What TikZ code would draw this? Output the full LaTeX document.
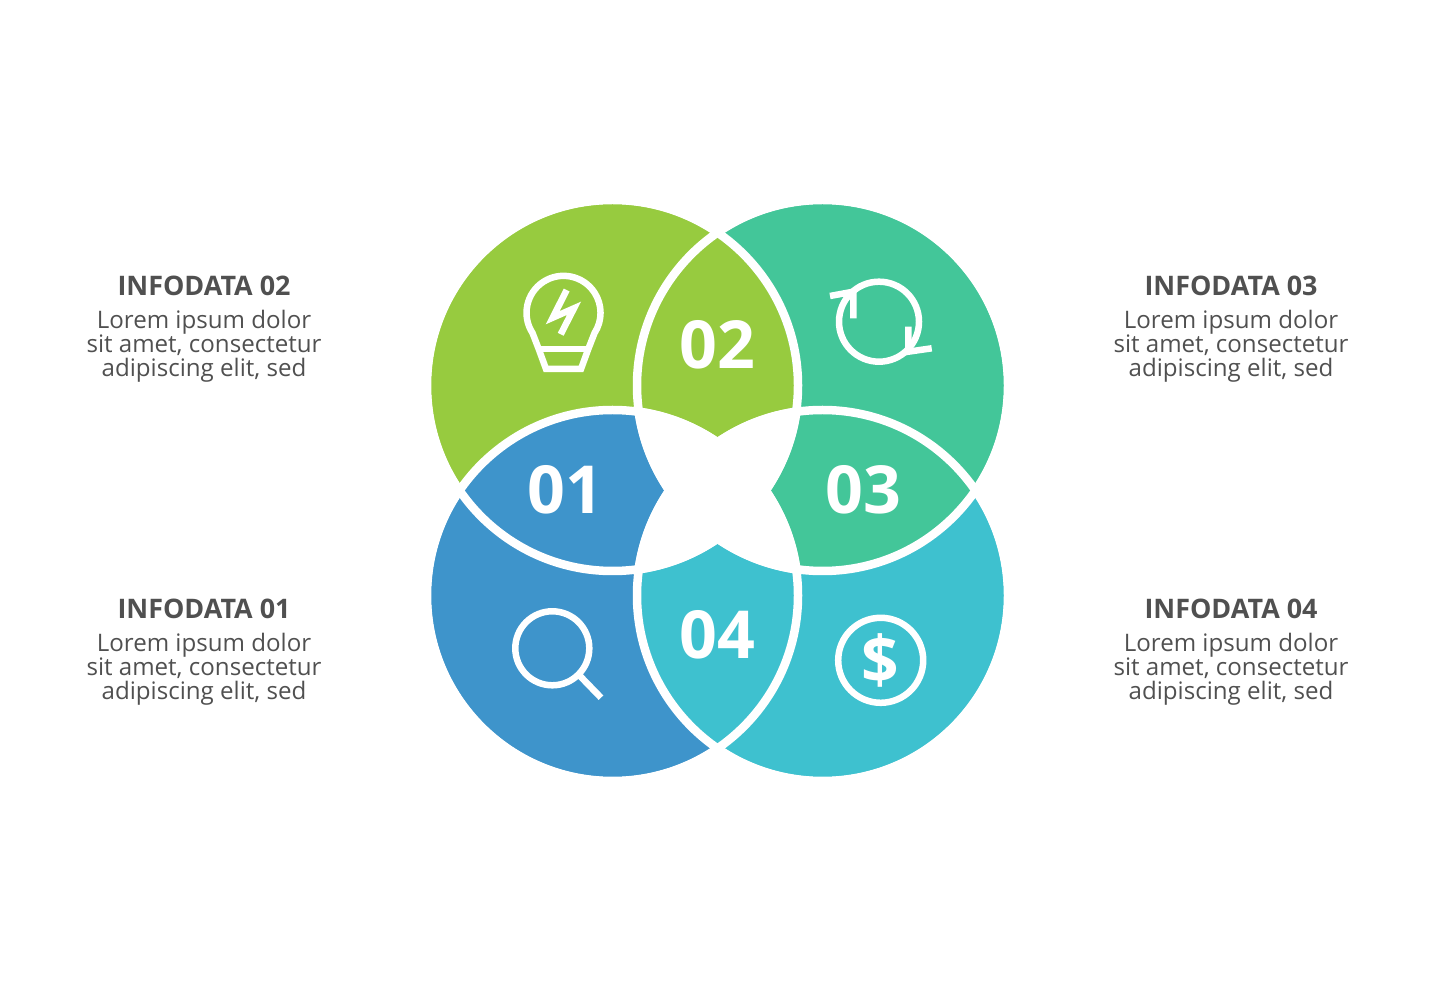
\documentclass[tikz,border=0pt]{standalone}
\usepackage{fontspec}
\setmainfont{Open Sans}
\usetikzlibrary{positioning}
\definecolor{leafgreen}{HTML}{97CB3F}
\definecolor{seagreen}{HTML}{43C699}
\definecolor{lagoon}{HTML}{3EC1CF}
\definecolor{oceanblue}{HTML}{3E94CB}
\definecolor{labelgray}{HTML}{505050}
\tikzset{
    numlabel/.style={text=white, font=\fontsize{66.5}{66.5}\selectfont\bfseries},
    titlelabel/.style={text=labelgray, font=\fontsize{27}{27}\selectfont\bfseries},
    bodylabel/.style={text=labelgray, align=center, font=\fontsize{24.2}{24.3}\selectfont},
    iconline/.style={draw=white, line width=6.5bp, line join=miter}
}

\begin{document}
\begin{tikzpicture}[x=1bp, y=1bp]
    \useasboundingbox (0,0) rectangle (1435,980);

    % Circle centres
    \coordinate (tl) at (612.5,594.5);
    \coordinate (tr) at (822.5,594.5);
    \coordinate (bl) at (612.5,384.5);
    \coordinate (br) at (822.5,384.5);

    % Discs
    \fill[leafgreen] (tl) circle (181.5);
    \fill[seagreen] (tr) circle (181.5);
    \fill[lagoon] (br) circle (181.5);
    \fill[oceanblue] (bl) circle (181.5);

    % Lenses
    \foreach \first/\second/\col in {tl/tr/leafgreen, tr/br/seagreen, br/bl/lagoon, bl/tl/oceanblue} {
        \begin{scope}
            \clip (\first) circle (181.5);
            \clip (\second) circle (181.5);
            \fill[\col] (\first) circle (181.5);
        \end{scope}
    }

    % White rings
    \foreach \centre in {tl,tr,bl,br} {
        \draw[white, line width=8.5bp] (\centre) circle (185.5);
    }

    % White star in the middle
    \foreach \first/\second/\third in {tl/tr/bl, tl/tr/br, tl/bl/br, tr/bl/br} {
        \begin{scope}
            \clip (\first) circle (190);
            \clip (\second) circle (190);
            \fill[white] (\third) circle (190);
        \end{scope}
    }

    % Numbers
    \node[numlabel] (num01) at (565,490) {01};
    \node[numlabel] (num02) at (717.5,635) {02};
    \node[numlabel] (num03) at (863,490) {03};
    \node[numlabel] (num04) at (717.5,345) {04};

    % Bulb
    \draw[iconline] (546,611) -- (538.7,631) -- (532.5,647)
        arc[start angle=213, end angle=-33, radius=37]
        -- (588.3,631) -- (581,611) -- cycle;
    \draw[iconline] (538.7,631) -- (588.3,631);
    \draw[iconline] (566.7,690) -- (552.7,662.3) -- (574,671.7) -- (560.7,645.7);

    % Refresh
    \draw[iconline] (879,658.3) circle (40);
    \draw[iconline] (830,684) -- (853.3,688.3) -- (853.3,661.7);
    \draw[iconline] (908.3,653.3) -- (908.3,628.3) -- (931.7,631.7);

    % Magnifier
    \draw[iconline] (552.3,331.7) circle (37);
    \draw[iconline] (580,304) -- (601,282.3);

    % Dollar
    \draw[iconline] (880.7,319.7) circle (42.5);
    \node[numlabel, font=\fontsize{66}{66}\selectfont\bfseries] (dollar) at (880.7,319.7) {\$};

    % Left texts
    \node[titlelabel] (title02) at (204,694) {INFODATA 02};
    \node[bodylabel] (body02) at (204,634) {Lorem ipsum dolor\\sit amet, consectetur\\adipiscing elit, sed};
    \node[titlelabel] (title01) at (204,371) {INFODATA 01};
    \node[bodylabel] (body01) at (204,311) {Lorem ipsum dolor\\sit amet, consectetur\\adipiscing elit, sed};

    % Right texts
    \node[titlelabel] (title03) at (1231,694) {INFODATA 03};
    \node[bodylabel] (body03) at (1231,634) {Lorem ipsum dolor\\sit amet, consectetur\\adipiscing elit, sed};
    \node[titlelabel] (title04) at (1231,371) {INFODATA 04};
    \node[bodylabel] (body04) at (1231,311) {Lorem ipsum dolor\\sit amet, consectetur\\adipiscing elit, sed};
\end{tikzpicture}
\end{document}
